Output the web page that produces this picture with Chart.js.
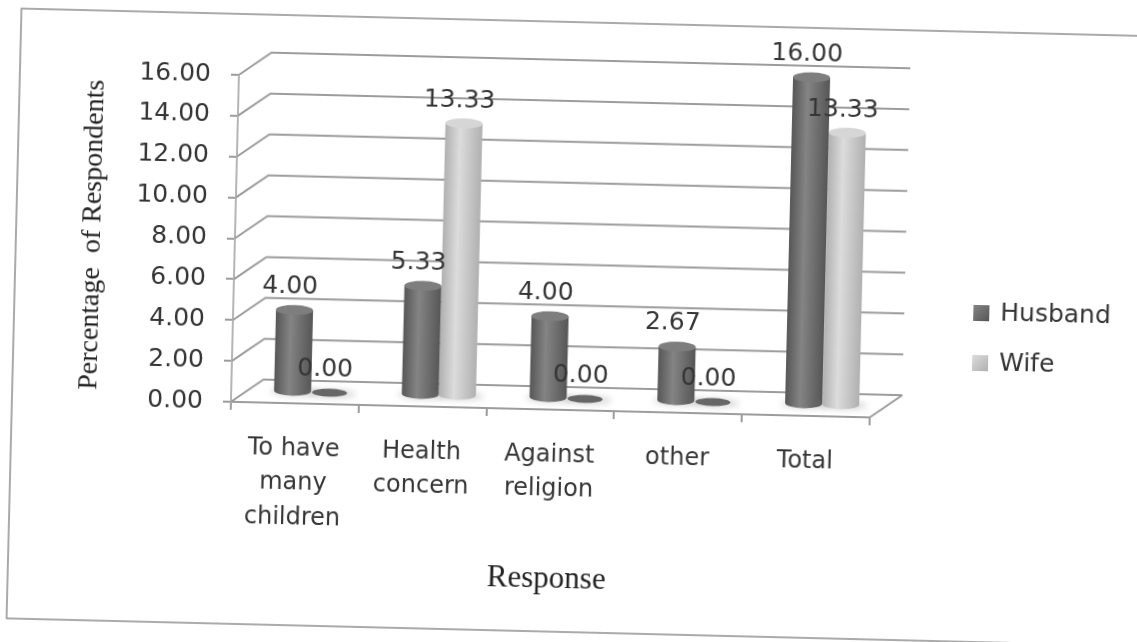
<!DOCTYPE html>
<html>
<head>
<meta charset="utf-8">
<title>Percentage of Respondents by Response</title>
<script src="https://cdn.jsdelivr.net/npm/chart.js@4"></script>
<style>
    html, body { margin: 0; height: 100%; background: #fff; overflow: hidden; }
    /* the sheet sits slightly tilted, so the whole canvas is turned */
    #wrap { position: absolute; left: -52px; top: -39px; width: 1240px; height: 720px; transform: rotate(1.4deg); }
</style>
</head>
<body>
<div id="wrap"><canvas id="responseChart" width="1240" height="720"></canvas></div>
<script>
const categories = [['To have', 'many', 'children'], ['Health', 'concern'], ['Against', 'religion'], 'other', 'Total'];
const husbandValues = [4.00, 5.33, 4.00, 2.67, 16.00];
const wifeValues = [0.00, 13.33, 0.00, 0.00, 13.33];
const seriesNames = ['Husband', 'Wife'];

const depthX = 32, depthY = 23;
const textColor = '#353535';
const gridColor = '#9c9c9c';
const valueFont = '25px "DejaVu Sans"';

// edge, middle, cap colours of each cylinder
const shades = [
    { edge: '#565656', mid: '#848484', cap: '#7e7e7e' },
    { edge: '#b0b0b0', mid: '#dcdcdc', cap: '#d6d6d6' }
];

function cylinder(ctx, bar, shade, isZero) {
    const x = bar.x + depthX / 2, top = bar.y - depthY / 2, base = bar.base - depthY / 2;
    const rx = bar.width / 2, ry = 5;

    // soft shadow on the floor
    ctx.save();
    ctx.filter = 'blur(3px)';
    ctx.fillStyle = 'rgba(150,150,150,0.4)';
    ctx.beginPath();
    ctx.ellipse(x + 2, base + 1, rx + 6, ry - 1, 0, 0, Math.PI * 2);
    ctx.fill();
    ctx.restore();

    if (isZero) {
        ctx.fillStyle = '#666';
        ctx.beginPath();
        ctx.ellipse(x, base, rx - 1, ry - 1, 0, 0, Math.PI * 2);
        ctx.fill();
        return;
    }

    const grad = ctx.createLinearGradient(x - rx, 0, x + rx, 0);
    grad.addColorStop(0, shade.edge);
    grad.addColorStop(0.4, shade.mid);
    grad.addColorStop(1, shade.edge);
    ctx.fillStyle = grad;
    ctx.beginPath();
    ctx.moveTo(x - rx, top);
    ctx.lineTo(x - rx, base);
    ctx.ellipse(x, base, rx, ry, 0, Math.PI, 0, true);
    ctx.lineTo(x + rx, top);
    ctx.closePath();
    ctx.fill();

    ctx.fillStyle = shade.cap;
    ctx.beginPath();
    ctx.ellipse(x, top, rx, ry, 0, 0, Math.PI * 2);
    ctx.fill();
}

const depthPlugin = {
    id: 'depthPlugin',
    beforeDraw(chart) {
        const ctx = chart.ctx;
        ctx.save();
        ctx.strokeStyle = '#8f8f8f';
        ctx.lineWidth = 1.5;
        ctx.strokeRect(66, 61, 1160, 610);
        ctx.restore();
    },
    // back wall lines, then the cylinders in place of flat bars
    beforeDatasetsDraw(chart) {
        const ctx = chart.ctx, area = chart.chartArea, yScale = chart.scales.y;
        ctx.save();
        ctx.strokeStyle = gridColor;
        ctx.lineWidth = 2;
        yScale.ticks.forEach(t => {
            const y = yScale.getPixelForValue(t.value);
            ctx.beginPath();
            ctx.moveTo(area.left, y);
            ctx.lineTo(area.left + depthX, y - depthY);
            ctx.lineTo(area.right + depthX, y - depthY);
            ctx.stroke();
        });
        ctx.beginPath();
        ctx.moveTo(area.right, area.bottom);
        ctx.lineTo(area.right + depthX, area.bottom - depthY);
        ctx.stroke();
        chart.data.datasets.forEach((ds, d) => {
            chart.getDatasetMeta(d).data.forEach((bar, i) => {
                cylinder(ctx, bar, shades[d], ds.data[i] === 0);
            });
        });
        ctx.restore();
        return false;
    },
    afterDraw(chart) {
        const ctx = chart.ctx;
        ctx.save();
        ctx.font = valueFont;
        ctx.fillStyle = textColor;
        ctx.textAlign = 'center';
        ctx.textBaseline = 'middle';
        chart.data.datasets.forEach((ds, d) => {
            chart.getDatasetMeta(d).data.forEach((bar, i) => {
                ctx.fillText(ds.data[i].toFixed(2), bar.x + depthX / 2 - 5, bar.y - depthY / 2 - 23);
            });
        });
        // legend beside the plot
        ctx.textAlign = 'left';
        seriesNames.forEach((name, d) => {
            const y = 342 + d * 50;
            const grad = ctx.createLinearGradient(1025, y - 8, 1041, y + 8);
            grad.addColorStop(0, shades[d].mid);
            grad.addColorStop(1, shades[d].edge);
            ctx.fillStyle = grad;
            ctx.fillRect(1025, y - 8, 16, 16);
            ctx.fillStyle = textColor;
            ctx.fillText(name, 1052, y);
        });
        ctx.restore();
    }
};

new Chart(document.getElementById('responseChart').getContext('2d'), {
    type: 'bar',
    data: {
        labels: categories,
        datasets: [
            { label: seriesNames[0], data: husbandValues, backgroundColor: shades[0].mid, categoryPercentage: 0.58, barPercentage: 1 },
            { label: seriesNames[1], data: wifeValues, backgroundColor: shades[1].mid, categoryPercentage: 0.58, barPercentage: 1 }
        ]
    },
    plugins: [depthPlugin],
    options: {
        responsive: false,
        animation: false,
        layout: { padding: { left: 126, top: 122, right: 316, bottom: 83 } },
        plugins: { legend: { display: false }, tooltip: { enabled: false } },
        scales: {
            x: {
                afterFit(scale) { scale.height = 188; },
                grid: { drawOnChartArea: false, color: gridColor, lineWidth: 2, tickLength: 8, offset: true },
                border: { color: gridColor, width: 2 },
                ticks: {
                    color: textColor,
                    padding: 20,
                    maxRotation: 0,
                    autoSkip: false,
                    font: { family: '"DejaVu Sans"', size: 24, lineHeight: 1.45 }
                },
                title: {
                    display: true,
                    text: 'Response',
                    color: '#222',
                    padding: 0,
                    font: { family: '"Liberation Serif"', size: 31 }
                }
            },
            y: {
                min: 0,
                max: 16,
                afterFit(scale) { scale.width = 159; },
                grid: { drawOnChartArea: false, color: gridColor, lineWidth: 2, tickLength: 8 },
                border: { color: '#b5b5b5', width: 2 },
                ticks: {
                    stepSize: 2,
                    color: textColor,
                    padding: 20,
                    font: { family: '"DejaVu Sans"', size: 25 },
                    callback: v => v.toFixed(2)
                },
                title: {
                    display: true,
                    text: 'Percentage  of Respondents',
                    color: '#222',
                    padding: 0,
                    font: { family: '"Liberation Serif"', size: 28 }
                }
            }
        }
    }
});
</script>
</body>
</html>
